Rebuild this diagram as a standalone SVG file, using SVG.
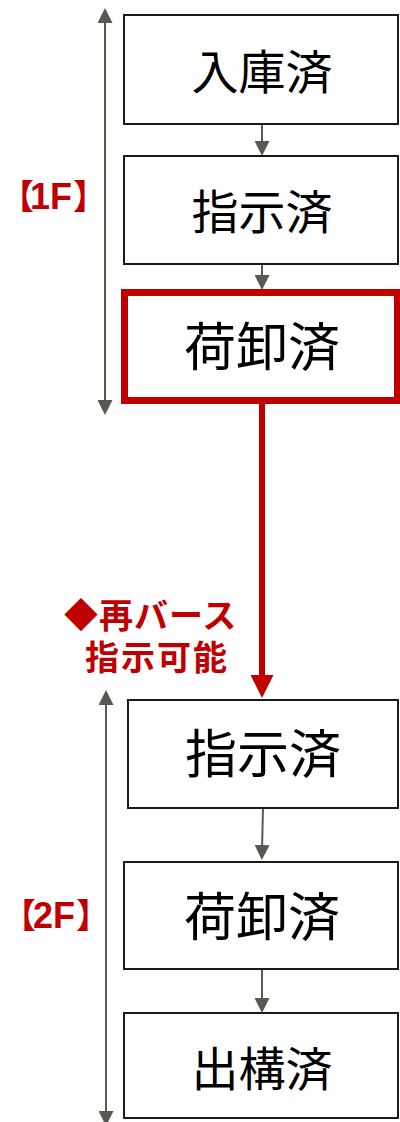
<svg xmlns="http://www.w3.org/2000/svg" width="400" height="1122" viewBox="0 0 400 1122">
  <style>
    .box { fill: #ffffff; stroke: #1a1a1a; stroke-width: 2; }
    .hl { fill: #ffffff; stroke: #C00000; stroke-width: 7; }
    .lbl { font-family: "Noto Sans CJK JP", sans-serif; fill: #000000; text-anchor: middle; }
    .red { font-family: "Noto Sans CJK JP", sans-serif; fill: #C00000; font-weight: bold; }
    .gc { stroke: #595950; stroke-width: 2; fill: none; }
    .rc { stroke: #C00000; stroke-width: 6; fill: none; }
  </style>
  <defs>
    <marker id="ga" viewBox="0 0 15 15" markerWidth="15" markerHeight="15" refX="5" refY="7.5" orient="auto-start-reverse" markerUnits="userSpaceOnUse">
      <path d="M0,0 L15,7.5 L0,15 z" fill="#595950"/>
    </marker>
    <marker id="ra" viewBox="0 0 23 23" markerWidth="23" markerHeight="23" refX="8" refY="11.5" orient="auto" markerUnits="userSpaceOnUse">
      <path d="M0,0 L23,11.5 L0,23 z" fill="#C00000"/>
    </marker>
  </defs>

  <g id="connectors">
    <line class="gc" x1="105" y1="18" x2="105" y2="405" marker-start="url(#ga)" marker-end="url(#ga)"/>
    <line class="gc" x1="106" y1="700" x2="106" y2="1116" marker-start="url(#ga)" marker-end="url(#ga)"/>
    <line class="gc" x1="262" y1="124" x2="262" y2="146" marker-end="url(#ga)"/>
    <line class="gc" x1="262" y1="264" x2="262" y2="280" marker-end="url(#ga)"/>
    <line class="rc" x1="262" y1="404" x2="262" y2="683" marker-end="url(#ra)"/>
    <line class="gc" x1="263" y1="808" x2="262" y2="850" marker-end="url(#ga)"/>
    <line class="gc" x1="262" y1="969" x2="262" y2="1003" marker-end="url(#ga)"/>
  </g>

  <g id="label-1F">
    <text class="red" y="209" font-size="34"><tspan x="0">【</tspan><tspan x="30" font-size="36" font-family="Liberation Sans">1F</tspan><tspan x="73">】</tspan></text>
  </g>
  <g id="label-2F">
    <text class="red" y="928" font-size="34"><tspan x="2">【</tspan><tspan x="33" font-size="36" font-family="Liberation Sans">2F</tspan><tspan x="76">】</tspan></text>
  </g>
  <g id="label-rebase">
    <text class="red" x="64" y="628" font-size="34" letter-spacing="1">◆再バース</text>
    <text class="red" x="85" y="670" font-size="34" letter-spacing="2">指示可能</text>
  </g>

  <g id="n1">
    <rect class="box" x="124" y="15" width="274" height="109"/>
    <text class="lbl" x="262" y="89" font-size="47">入庫済</text>
  </g>
  <g id="n2">
    <rect class="box" x="124" y="156" width="274" height="108"/>
    <text class="lbl" x="262" y="229" font-size="47">指示済</text>
  </g>
  <g id="n3">
    <rect class="hl" x="124.5" y="292.5" width="273" height="108"/>
    <text class="lbl" x="262" y="366" font-size="52">荷卸済</text>
  </g>
  <g id="n4">
    <rect class="box" x="128" y="700" width="270" height="108"/>
    <text class="lbl" x="263" y="773" font-size="52">指示済</text>
  </g>
  <g id="n5">
    <rect class="box" x="124" y="862" width="274" height="107"/>
    <text class="lbl" x="262" y="936" font-size="52">荷卸済</text>
  </g>
  <g id="n6">
    <rect class="box" x="124" y="1013" width="274" height="105"/>
    <text class="lbl" x="262" y="1086" font-size="47">出構済</text>
  </g>
</svg>
